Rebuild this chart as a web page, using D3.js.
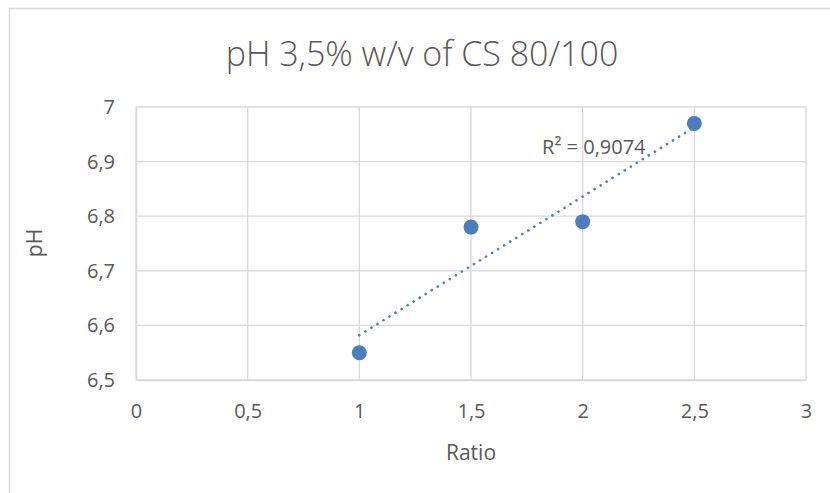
<!DOCTYPE html>
<html>
<head>
<meta charset="utf-8">
<script src="https://cdn.jsdelivr.net/npm/d3@7"></script>
<style>
  body { margin: 0; background: #fff; }
  svg text { font-family: "Open Sans", "Noto Sans", sans-serif; fill: #595959; }
</style>
</head>
<body>
<svg id="chart" width="830" height="493"></svg>
<script>
// data
const ratio = [1, 1.5, 2, 2.5];
const ph = [6.55, 6.78, 6.79, 6.97];
const xTicks = [0, 0.5, 1, 1.5, 2, 2.5, 3];
const yTicks = [6.5, 6.6, 6.7, 6.8, 6.9, 7];
const chartTitle = "pH 3,5% w/v of CS 80/100";

const svg = d3.select("#chart");
const margin = { left: 136, top: 107, right: 24, bottom: 113 };
const width = 830 - margin.left - margin.right,
      height = 493 - margin.top - margin.bottom;

// chart border (runs off the right and bottom edge)
svg.append("rect").attr("x", 9.5).attr("y", 8.5).attr("width", 840).attr("height", 500)
  .attr("fill", "none").attr("stroke", "#d9d9d9").attr("stroke-width", 1.5);

const x = d3.scaleLinear().domain([0, 3]).range([0, width]);
const y = d3.scaleLinear().domain([6.5, 7]).range([height, 0]);

const g = svg.append("g").attr("transform", "translate(" + margin.left + "," + margin.top + ")");

// grid
g.append("g").selectAll("line").data(xTicks).join("line")
  .attr("x1", d => x(d)).attr("x2", d => x(d)).attr("y1", 0).attr("y2", height)
  .attr("stroke", "#d9d9d9").attr("stroke-width", 1.3);
g.append("g").selectAll("line").data(yTicks).join("line")
  .attr("x1", 0).attr("x2", width).attr("y1", d => y(d)).attr("y2", d => y(d))
  .attr("stroke", "#d9d9d9").attr("stroke-width", 1.3);

const fmt = d => String(d).replace(".", ",");

// axes
const xAxis = g.append("g").attr("transform", "translate(0," + height + ")")
  .call(d3.axisBottom(x).tickValues(xTicks).tickFormat(fmt).tickSize(0).tickPadding(24));
xAxis.select(".domain").attr("stroke", "#d9d9d9").attr("stroke-width", 1.5);
xAxis.selectAll("text").attr("font-size", 20).attr("fill", "#595959");

const yAxis = g.append("g")
  .call(d3.axisLeft(y).tickValues(yTicks).tickFormat(fmt).tickSize(0).tickPadding(21));
yAxis.select(".domain").attr("stroke", "#d9d9d9").attr("stroke-width", 1.5);
yAxis.selectAll("text").attr("font-size", 20).attr("fill", "#595959");

// linear trendline
const n = ratio.length;
const mx = d3.mean(ratio), my = d3.mean(ph);
let sxy = 0, sxx = 0, syy = 0;
for (let i = 0; i < n; i++) {
  sxy += (ratio[i] - mx) * (ph[i] - my);
  sxx += (ratio[i] - mx) ** 2;
  syy += (ph[i] - my) ** 2;
}
const slope = sxy / sxx, icpt = my - slope * mx;
const r2 = (sxy * sxy) / (sxx * syy);
const xs = d3.extent(ratio);

g.append("line")
  .attr("x1", x(xs[0])).attr("y1", y(icpt + slope * xs[0]))
  .attr("x2", x(xs[1])).attr("y2", y(icpt + slope * xs[1]))
  .attr("stroke", "#4a7ebf").attr("stroke-width", 2.6)
  .attr("stroke-linecap", "round").attr("stroke-dasharray", "0.1 7");

// points
g.selectAll("circle.pt").data(ratio).join("circle").attr("class", "pt")
  .attr("cx", d => x(d)).attr("cy", (d, i) => y(ph[i])).attr("r", 7.5)
  .attr("fill", "#4a7ebf");

// R² label
g.append("text").attr("x", x(2.05)).attr("y", y(6.93) + 9)
  .attr("text-anchor", "middle").attr("font-size", 20)
  .text("R² = " + r2.toFixed(4).replace(".", ","));

// titles
svg.append("text").attr("x", 422).attr("y", 66).attr("text-anchor", "middle")
  .attr("font-size", 34).attr("font-weight", 300).text(chartTitle);
svg.append("text").attr("x", 471).attr("y", 460).attr("text-anchor", "middle")
  .attr("font-size", 21).text("Ratio");
svg.append("text").attr("transform", "translate(42,243) rotate(-90)")
  .attr("text-anchor", "middle").attr("font-size", 21).text("pH");
</script>
</body>
</html>
